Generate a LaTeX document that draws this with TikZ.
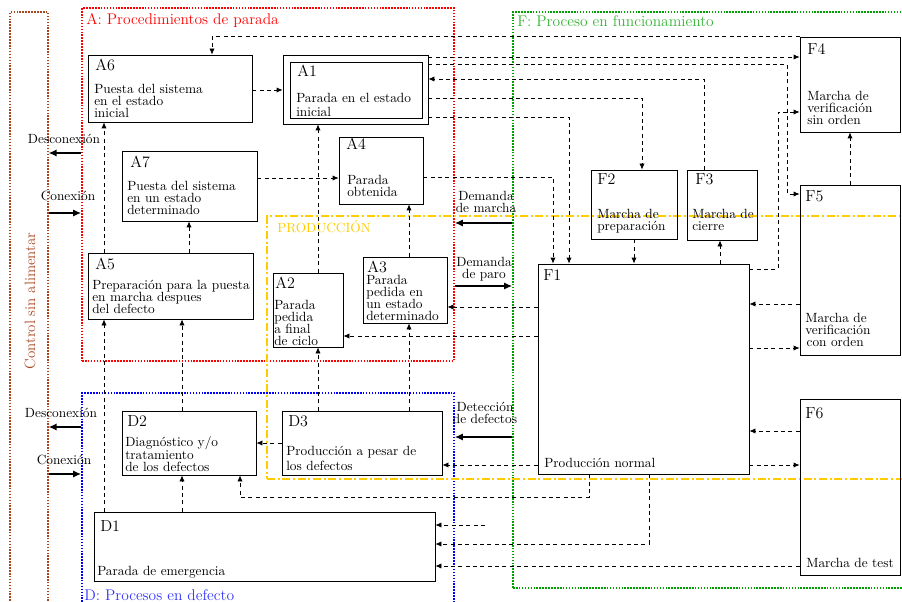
\documentclass[tikz,border=0pt]{standalone}
\usepackage{xcolor}
\usepackage{tikz}
\usetikzlibrary{arrows.meta, fit}

\begin{document}
\begin{tikzpicture}[x=0.75pt, y=-0.75pt,
  etapa/.style={draw, rectangle, inner sep=0pt, semithick},
  rotulo/.style={anchor=north west, inner sep=0pt, font=\large},
  texto/.style={anchor=north west, inner sep=0pt, align=left, font=\fontsize{10}{9}\selectfont},
  zona/.style={draw, rectangle, inner sep=0pt, line width=1.4pt, dash pattern=on 1.2pt off 1pt},
  titulo/.style={anchor=base west, inner sep=0pt, font=\fontsize{11.6}{14}\selectfont},
  flujo/.style={line width=0.6pt, dash pattern=on 3pt off 2.5pt, -{Latex[length=4.5pt,width=4pt]}},
  orden/.style={line width=1.1pt, -{Latex[length=6pt,width=5.5pt]}},
  etiq/.style={align=center, inner sep=0pt, font=\fontsize{10}{9.5}\selectfont}]
  \definecolor{marronCtrl}{RGB}{170,70,30}
  \definecolor{rojoZona}{RGB}{255,0,0}
  \definecolor{verdeZona}{RGB}{0,160,0}
  \definecolor{azulZona}{RGB}{0,0,255}
  \definecolor{amarilloProd}{RGB}{255,204,0}

  \useasboundingbox (0,0) rectangle (902,602);

  % zonas
  \node[zona, draw=marronCtrl, line width=0.9pt, fit={(10,12) (48,610)}] (ctrl) {};
  \node[zona, draw=rojoZona, fit={(82,8) (454,361)}] (zA) {};
  \node[zona, draw=verdeZona, fit={(513,12) (906,588)}] (zF) {};
  \node[zona, draw=azulZona, fit={(82,393) (454,612)}] (zD) {};
  \node[draw=amarilloProd, inner sep=0pt, line width=1.4pt,
        dash pattern=on 6pt off 2pt on 1.5pt off 2pt, fit={(267,216) (910,479)}] (zP) {};

  \node[rotate=90, text=marronCtrl, font=\fontsize{11.2}{14}\selectfont] (tCtrl) at (30,301) {Control sin alimentar};
  \node[titulo, text=rojoZona] (tA) at (86,25) {A: Procedimientos de parada};
  \node[titulo, text=verdeZona!80!white] (tF) at (517,27) {F: Proceso en funcionamiento};
  \node[titulo, text=azulZona!80!white] (tD) at (84,600) {D: Procesos en defecto};
  \node[anchor=base west, inner sep=0pt, text=amarilloProd] (tP) at (277,233) {PRODUCCIÓN};

  % etapas A
  \node[etapa, fit={(88,55) (252,122)}] (A6) {};
  \node[rotulo] (A6r) at (95,59) {A6};
  \node[texto] (A6t) at (94,84) {Puesta del sistema\\en el estado\\inicial};

  \node[etapa, fit={(283,55) (428,124)}] (A1) {};
  \node[etapa, fit={(290,62) (422,118)}] (A1i) {};
  \node[rotulo] (A1r) at (297,65) {A1};
  \node[texto, font=\fontsize{10}{10.5}\selectfont] (A1t) at (296,93) {Parada en el estado\\inicial};

  \node[etapa, fit={(339,137) (423,204)}] (A4) {};
  \node[rotulo] (A4r) at (346,138) {A4};
  \node[texto] (A4t) at (347,175) {Parada\\obtenida};

  \node[etapa, fit={(122,151) (257,221)}] (A7) {};
  \node[rotulo] (A7r) at (130,156) {A7};
  \node[texto] (A7t) at (127,181) {Puesta del sistema\\en un estado\\determinado};

  \node[etapa, fit={(88,253) (253,319)}] (A5) {};
  \node[rotulo] (A5r) at (95,258) {A5};
  \node[texto] (A5t) at (92,280) {Preparación para la puesta\\en marcha despues\\del defecto};

  \node[etapa, fit={(273,273) (343,347)}] (A2) {};
  \node[rotulo] (A2r) at (275,277) {A2};
  \node[texto] (A2t) at (274,300) {Parada\\pedida\\a final\\de ciclo};

  \node[etapa, fit={(363,257) (447,323)}] (A3) {};
  \node[rotulo] (A3r) at (367,261) {A3};
  \node[texto] (A3t) at (366,275) {Parada\\pedida en\\un estado\\determinado};

  % etapas F
  \node[etapa, fit={(538,264) (749,474)}] (F1) {};
  \node[rotulo] (F1r) at (543,269) {F1};
  \node[texto] (F1t) at (544,458) {Producción normal};

  \node[etapa, fit={(591,170) (677,239)}] (F2) {};
  \node[rotulo] (F2r) at (597,173) {F2};
  \node[texto] (F2t) at (597,209) {Marcha de\\preparación};

  \node[etapa, fit={(687,170) (757,240)}] (F3) {};
  \node[rotulo] (F3r) at (695,173) {F3};
  \node[texto] (F3t) at (692,209) {Marcha de\\cierre};

  \node[etapa, fit={(800,37) (900,132)}] (F4) {};
  \node[rotulo] (F4r) at (807,43) {F4};
  \node[texto] (F4t) at (807,91) {Marcha de\\verificación\\sin orden};

  \node[etapa, fit={(800,185) (900,355)}] (F5) {};
  \node[rotulo] (F5r) at (805,190) {F5};
  \node[texto] (F5t) at (805,313) {Marcha de\\verificación\\\hspace{1pt}con orden};

  \node[etapa, fit={(800,399) (900,575)}] (F6) {};
  \node[rotulo] (F6r) at (805,407) {F6};
  \node[texto] (F6t) at (806,558) {Marcha de test};

  % etapas D
  \node[etapa, fit={(122,411) (256,475)}] (D2) {};
  \node[rotulo] (D2r) at (127,415) {D2};
  \node[texto] (D2t) at (125,436) {Diagnóstico y/o\\tratamiento\\de los defectos};

  \node[etapa, fit={(282,411) (442,475)}] (D3) {};
  \node[rotulo] (D3r) at (288,415) {D3};
  \node[texto, font=\fontsize{10}{11}\selectfont] (D3t) at (286,446) {Producción a pesar de\\los defectos};

  \node[etapa, fit={(94,512) (435,581)}] (D1) {};
  \node[rotulo] (D1r) at (100,520) {D1};
  \node[texto] (D1t) at (97,566) {Parada de emergencia};

  % ordenes externas
  \draw[orden] (zA.west |- 0,153) -- (ctrl.east |- 0,153);
  \node[etiq] (lDesA) at (64,139) {Desconexión};
  \draw[orden] (ctrl.east |- 0,213) -- (zA.west |- 0,213);
  \node[etiq] (lConA) at (68,196) {Conexión};
  \draw[orden] (zD.west |- 0,427) -- (ctrl.east |- 0,427);
  \node[etiq] (lDesD) at (61,413) {Desconexión};
  \draw[orden] (ctrl.east |- 0,474) -- (zD.west |- 0,474);
  \node[etiq] (lConD) at (64,460) {Conexión};

  \draw[orden] (zF.west |- 0,223) -- (zA.east |- 0,223);
  \node[etiq] (lMar) at (486,202) {Demanda\\de marcha};
  \draw[orden] (zA.east |- 0,286) -- (zF.west |- 0,286);
  \node[etiq] (lPar) at (484,269) {Demanda\\de paro};
  \draw[orden] (zF.west |- 0,437) -- (zD.east |- 0,437);
  \node[etiq] (lDet) at (485,413) {Detección\\de defectos};

  % transiciones
  \draw[flujo] (F4.north west) -| (A6.north -| 212,0);
  \draw[flujo] (A6.east |- 0,90) -- (A1.west |- 0,90);
  \draw[flujo] (A7.east |- 0,178) -- (A4.west |- 0,178);
  \draw[flujo] (A5.north -| 104,0) -- (A6.south -| 104,0);
  \draw[flujo] (A5.north -| 189,0) -- (A7.south -| 189,0);
  \draw[flujo] (D1.north -| 104,0) -- (A5.south -| 104,0);
  \draw[flujo] (D2.north -| 182,0) -- (A5.south -| 182,0);
  \draw[flujo] (D1.north -| 182,0) -- (D2.south -| 182,0);
  \draw[flujo] (A2.north -| 318,0) -- (A1.south -| 318,0);
  \draw[flujo] (A3.north -| 409,0) -- (A4.south -| 409,0);
  \draw[flujo] (D3.north -| 318,0) -- (A2.south -| 318,0);
  \draw[flujo] (D3.north -| 409,0) -- (A3.south -| 409,0);
  \draw[flujo] (D3.west |- 0,443) -- (D2.east |- 0,443);

  \draw[flujo] (A1.east |- 0,57) -- (F4.west |- 0,57);
  \draw[flujo] (A1.east |- 0,64) -| (787,194) -- (F5.west |- 0,194);
  \draw[flujo] (F3.north -| 704,0) |- (A1.east |- 0,79);
  \draw[flujo] (A1.east |- 0,98) -| (F2.north -| 642,0);
  \draw[flujo] (A1.east |- 0,117) -| (F1.north -| 569,0);
  \draw[flujo] (A4.east |- 0,177) -| (F1.north -| 553,0);

  \draw[flujo] (F2.south -| 634,0) -- (F1.north -| 634,0);
  \draw[flujo] (F1.north -| 720,0) -- (F3.south -| 720,0);
  \draw[flujo] (F1.east |- 0,269) -| (778,112) -- (F4.west |- 0,112);
  \draw[flujo] (F5.north -| 850,0) -- (F4.south -| 850,0);
  \draw[flujo] (F5.west |- 0,304) -- (F1.east |- 0,304);
  \draw[flujo] (F1.east |- 0,348) -- (F5.west |- 0,348);
  \draw[flujo] (F6.west |- 0,431) -- (F1.east |- 0,431);
  \draw[flujo] (F1.east |- 0,465) -- (F6.west |- 0,465);

  \draw[flujo] (F1.west |- 0,307) -- (A3.east |- 0,307);
  \draw[flujo] (F1.west |- 0,336) -- (A2.east |- 0,336);
  \draw[flujo] (F1.west |- 0,465) -- (D3.east |- 0,465);
  \draw[flujo] (F1.south -| 589,0) |- (240,497) -- (D2.south -| 240,0);
  \draw[flujo] (F1.south -| 649,0) |- (D1.east |- 0,544);
  \draw[flujo] (F6.west |- 0,566) -- (D1.east |- 0,566);
  \coordinate (todo) at (485,525);
  \draw[flujo] (todo) -- (D1.east |- todo);
\end{tikzpicture}
\end{document}
